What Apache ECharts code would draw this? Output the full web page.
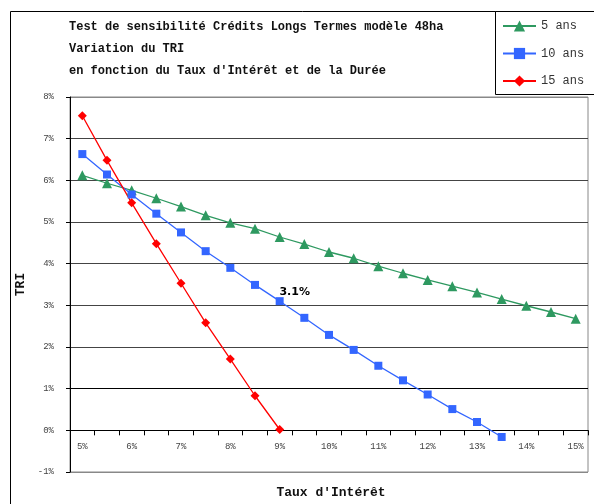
<!DOCTYPE html>
<html>
<head>
<meta charset="utf-8">
<script src="https://cdn.jsdelivr.net/npm/echarts@6/dist/echarts.min.js"></script>
<style>
  html, body { margin: 0; padding: 0; background: #fff; }
  #chart { width: 594px; height: 504px; }
</style>
</head>
<body>
<div id="chart"></div>
<script>
// Interest rates (%) tested, in 0.5-point steps
const rates = ['5%', '5.5%', '6%', '6.5%', '7%', '7.5%', '8%', '8.5%', '9%', '9.5%', '10%',
               '10.5%', '11%', '11.5%', '12%', '12.5%', '13%', '13.5%', '14%', '14.5%', '15%'];

// TRI (%) for each loan duration
const tri5 = [6.12, 5.93, 5.76, 5.57, 5.37, 5.16, 4.98, 4.84, 4.64, 4.47, 4.28,
              4.13, 3.94, 3.77, 3.61, 3.46, 3.31, 3.15, 2.99, 2.84, 2.68];
const tri10 = [6.63, 6.14, 5.66, 5.20, 4.75, 4.30, 3.90, 3.49, 3.1, 2.70, 2.29,
               1.93, 1.55, 1.20, 0.86, 0.51, 0.20, -0.16, null, null, null];
const tri15 = [7.55, 6.48, 5.46, 4.48, 3.53, 2.58, 1.71, 0.83, 0.02, null, null,
               null, null, null, null, null, null, null, null, null, null];

const seriesNames = ['5 ans', '10 ans', '15 ans'];
const annotatedIndex = 8; // 10-year TRI at 9 %

const titleLines = [
  'Test de sensibilité Crédits Longs Termes modèle 48ha',
  'Variation du TRI',
  "en fonction du Taux d'Intérêt et de la Durée"
];
const xAxisTitle = "Taux d'Intérêt";
const yAxisTitle = 'TRI';

const MONO = "'Liberation Mono', 'DejaVu Sans Mono', monospace";

const chart = echarts.init(document.getElementById('chart'), null, { renderer: 'canvas' });

const tri10Data = tri10.map((v, i) => i === annotatedIndex ? {
  value: v,
  label: {
    show: true, position: 'top', offset: [15, 5],
    formatter: '{c}%',
    color: '#000', fontSize: 11, fontWeight: 'bold',
    fontFamily: "'DejaVu Sans', sans-serif"
  }
} : v);

chart.setOption({
  animation: false,
  backgroundColor: '#fff',
  title: {
    text: titleLines.join('\n'),
    left: 64, top: 11,
    textStyle: {
      fontFamily: MONO, fontSize: 12, fontWeight: 'bold',
      color: '#111', lineHeight: 22
    }
  },
  graphic: [
    { // outer frame
      type: 'rect', silent: true, z: -1,
      shape: { x: 10.5, y: 11.5, width: 620, height: 520 },
      style: { fill: null, stroke: '#000', lineWidth: 1 }
    },
    { // legend frame
      type: 'rect', silent: true,
      shape: { x: 495.5, y: 11.5, width: 110, height: 83 },
      style: { fill: '#fff', stroke: '#000', lineWidth: 1 }
    },
    {
      type: 'text', silent: true,
      style: {
        text: xAxisTitle, x: 331, y: 493,
        align: 'center', verticalAlign: 'middle',
        font: "bold 13px " + MONO, fill: '#111'
      }
    }
  ],
  legend: {
    orient: 'vertical',
    left: 497, top: 15,
    itemWidth: 33, itemHeight: 14, itemGap: 15.5,
    data: seriesNames,
    textStyle: { fontFamily: MONO, fontSize: 12, color: '#333' },
    z: 10
  },
  grid: {
    left: 70, right: 6, top: 97, bottom: 32,
    show: true, borderColor: '#888', borderWidth: 1
  },
  xAxis: {
    type: 'category',
    data: rates,
    boundaryGap: true,
    axisLine: { onZero: true, lineStyle: { color: '#000', width: 1 } },
    axisTick: { show: true, interval: 0, length: 5, lineStyle: { color: '#000' } },
    axisLabel: {
      interval: 1, margin: -30,
      fontFamily: MONO, fontSize: 9, color: '#444'
    },
    splitLine: { show: false }
  },
  yAxis: {
    type: 'value',
    min: -1, max: 8, interval: 1,
    name: yAxisTitle,
    nameLocation: 'middle', nameRotate: 90, nameGap: 40,
    nameTextStyle: { fontFamily: MONO, fontSize: 13, fontWeight: 'bold', color: '#111' },
    axisLine: { show: true, lineStyle: { color: '#000', width: 1 } },
    axisTick: { show: true, length: 4, lineStyle: { color: '#000' } },
    axisLabel: {
      formatter: '{value}%', margin: 16,
      fontFamily: MONO, fontSize: 9, color: '#444'
    },
    splitLine: {
      show: true,
      lineStyle: { color: ['#888', '#444', '#000', '#444', '#444', '#444', '#444', '#444', '#444', '#888'], width: 1 }
    }
  },
  series: [
    {
      name: seriesNames[0], type: 'line', data: tri5,
      symbol: 'triangle', symbolSize: 10,
      itemStyle: { color: '#2E9960' },
      lineStyle: { color: '#2E9960', width: 1.3 }
    },
    {
      name: seriesNames[1], type: 'line', data: tri10Data,
      symbol: 'rect', symbolSize: 8,
      itemStyle: { color: '#3366FF' },
      lineStyle: { color: '#3366FF', width: 1.3 }
    },
    {
      name: seriesNames[2], type: 'line', data: tri15,
      symbol: 'diamond', symbolSize: 9,
      itemStyle: { color: '#FF0000' },
      lineStyle: { color: '#FF0000', width: 1.3 }
    }
  ]
});
</script>
</body>
</html>
